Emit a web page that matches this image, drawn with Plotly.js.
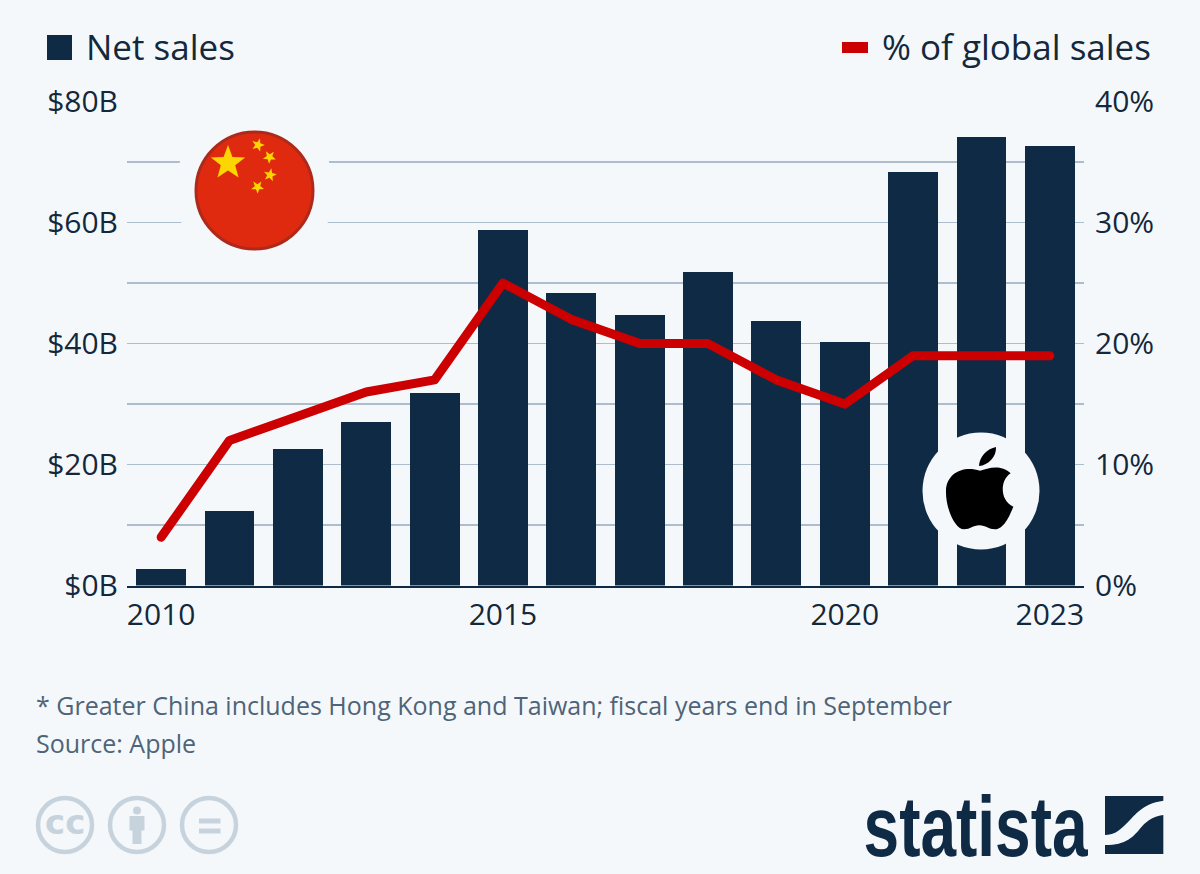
<!DOCTYPE html>
<html>
<head>
<meta charset="utf-8">
<script src="https://cdn.plot.ly/plotly-3.0.1.min.js"></script>
<style>html,body{margin:0;padding:0;background:#f5f8fb;overflow:hidden}</style>
</head>
<body>
<div id="chart" style="width:1200px;height:874px"></div>
<script>
const years = [2010,2011,2012,2013,2014,2015,2016,2017,2018,2019,2020,2021,2022,2023];
const netSales = [2.8,12.4,22.5,27,31.9,58.7,48.4,44.8,51.9,43.7,40.3,68.4,74.2,72.6];
const globalShare = [4,12,14,16,17,25,22,20,20,17,15,19,19,19];
const xTicks = [2010,2015,2020,2023];
const leftTickVals = [0,10,20,30,40,50,60,70,80];
const leftTickText = ['$0B','','$20B','','$40B','','$60B','','$80B'];
const rightTickVals = [0,10,20,30,40];
const rightTickText = ['0%','10%','20%','30%','40%'];
const seriesBar = 'Net sales';
const seriesLine = '% of global sales';
const footnote = '* Greater China includes Hong Kong and Taiwan; fiscal years end in September';
const source = 'Source: Apple';

const W = 1200, H = 874;
const BG = '#f5f8fb', NAVY = '#0f2a45', RED = '#cc0000', GREY = '#c6d3dc';
const TXT = '#14283c', FOOT = '#4e6478';
const FONT = '"Open Sans", "Noto Sans", sans-serif';
const px = (x,y) => (x/W) + ' ' + (1 - y/H);

function pathFrom(cmds, ox, oy, s){
  return cmds.map(c => {
    const out = [c[0]];
    for (let i=1;i<c.length;i+=2) out.push(px(ox + c[i]*s, oy + c[i+1]*s));
    return out.join(' ');
  }).join(' ');
}
function shapePath(d, fill, line, lw){
  return {type:'path', xref:'paper', yref:'paper', path:d, fillcolor:fill, layer:'above',
          line:{color:line||fill, width:lw||0}};
}
function circle(cx,cy,r,fill,line,lw){
  return {type:'circle', xref:'paper', yref:'paper', layer:'above',
    x0:(cx-r)/W, x1:(cx+r)/W, y0:1-(cy+r)/H, y1:1-(cy-r)/H,
    fillcolor:fill, line:{color:line||fill, width:lw||0}};
}
function rect(x0,y0,x1,y1,fill){
  return {type:'rect', xref:'paper', yref:'paper', layer:'above',
    x0:x0/W, x1:x1/W, y0:1-y1/H, y1:1-y0/H, fillcolor:fill, line:{width:0}};
}
function star(cx,cy,r,rot){
  const pts=[];
  for(let i=0;i<10;i++){
    const rr = i%2 ? r*0.42 : r;
    const a = rot + i*Math.PI/5 - Math.PI/2;
    pts.push(px(cx+rr*Math.cos(a), cy+rr*Math.sin(a)));
  }
  return 'M '+pts.join(' L ')+' Z';
}
const appleBody = [['M',240,152],['C',262,146,300,130,332,160],['C',300,180,298,240,340,260],
  ['C',330,285,312,328,285,328],['C',265,328,258,316,238,316],['C',218,316,212,328,192,328],
  ['C',165,328,136,265,138,210],['C',140,160,190,135,240,152],['Z']];
const appleLeaf = [['M',237,138],['C',238,110,262,86,288,81],['C',290,110,265,136,237,138],['Z']];
const logoA = [['M',765,48],['L',940,48],['L',940,62],['C',875,70,850,112,825,135],['C',805,155,790,165,765,165],['Z']];
const logoB = [['M',940,105],['L',940,222],['L',765,222],['L',765,195],['C',830,195,850,170,875,140],['C',895,118,915,108,940,105],['Z']];
const t3 = (o,ox,oy) => pathFrom(o, ox, oy, 1/3);

const shapes = [
  rect(47,35,72,60,NAVY),
  rect(842,42,868,53,RED),
  circle(254.5,190.5,80,BG),
  circle(254.5,190.5,58.5,'#e02a10','#ad2a1a',3),
  shapePath(star(228,163,18,0),'#fdd500'),
  shapePath(star(258,145,6.8,0.3),'#fdd500'),
  shapePath(star(269.5,157,6.8,0.7),'#fdd500'),
  shapePath(star(270,175,6.8,0.2),'#fdd500'),
  shapePath(star(257.5,187,6.8,0.6),'#fdd500'),
  circle(981,491,58.5,BG),
  shapePath(t3(appleBody,900,420),'#000000'),
  shapePath(t3(appleLeaf,900,420),'#000000'),
  circle(65,825,27,BG,GREY,4.5),
  circle(137,825,27,BG,GREY,4.5),
  circle(209,825,27,BG,GREY,4.5),
  circle(137,810.5,4,GREY),
  rect(129.5,816,144.5,830.5,GREY),
  rect(132.5,816,141.5,844,GREY),
  rect(199,818.5,220.5,823.5,GREY),
  rect(199,828.5,220.5,833.5,GREY),
  shapePath(t3(logoA,850,780),NAVY),
  shapePath(t3(logoB,850,780),NAVY)
];

const note = (x,y,text,size,color,anchor,extra) => Object.assign({
  xref:'paper', yref:'paper', x:x/W, y:1-y/H, text:text, showarrow:false,
  xanchor:anchor||'left', yanchor:'middle', borderpad:0, borderwidth:0,
  font:{family:FONT,size:size,color:color}
}, extra||{});

const annotations = [
  note(86,46.5,seriesBar,35,TXT),
  note(1151,46.5,seriesLine,35,TXT,'right'),
  note(36,705,footnote,25,FOOT),
  note(36,743,source,25,FOOT),
  note(65,822,'cc',34,GREY,'center',{font:{family:'"DejaVu Sans", sans-serif',size:34,color:GREY,weight:700}}),
  note(976,826,'statista',86,NAVY,'center',{font:{family:'"Liberation Sans Narrow","Liberation Sans",sans-serif',size:86,color:NAVY,weight:700}})
];

const traces = [
  {type:'bar', name:seriesBar, x:years, y:netSales, yaxis:'y', width:0.73,
   marker:{color:NAVY,line:{width:0}}, hoverinfo:'skip'},
  {type:'scatter', mode:'lines', name:seriesLine, x:years, y:globalShare, yaxis:'y2',
   line:{color:RED,width:9,shape:'linear'}, hoverinfo:'skip', cliponaxis:false}
];

const tickFont = {family:FONT,size:30,color:TXT};
const layout = {
  width:W, height:H, margin:{l:0,r:0,t:0,b:0},
  paper_bgcolor:BG, plot_bgcolor:BG, showlegend:false, bargap:0,
  xaxis:{domain:[127/W,1084/W], range:[2009.5,2023.5], tickmode:'array', tickvals:xTicks,
         ticktext:xTicks.map(String), tickfont:tickFont, showgrid:false, zeroline:false,
         showline:true, linecolor:NAVY, linewidth:2, ticks:'outside', ticklen:1, tickcolor:'rgba(0,0,0,0)', anchor:'y', fixedrange:true},
  yaxis:{domain:[1-585.6/H,1-101.6/H], range:[0,80], tickmode:'array', tickvals:leftTickVals,
         ticktext:leftTickText, tickfont:tickFont, showgrid:true, gridcolor:'#aebdcb', gridwidth:1.4,
         zeroline:false, showline:false, ticks:'outside', ticklen:2, tickcolor:'rgba(0,0,0,0)', fixedrange:true},
  yaxis2:{domain:[1-585.6/H,1-101.6/H], range:[0,40], overlaying:'y', side:'right', anchor:'x',
         tickmode:'array', tickvals:rightTickVals, ticktext:rightTickText, tickfont:tickFont,
         showgrid:false, zeroline:false, showline:false, ticks:'outside', ticklen:4, tickcolor:'rgba(0,0,0,0)', fixedrange:true},
  shapes:shapes, annotations:annotations
};

Plotly.newPlot('chart', traces, layout, {displayModeBar:false, staticPlot:true}).then(() => {
  document.querySelectorAll('#chart .js-line').forEach(p => { p.style.strokeLinecap='round'; p.style.strokeLinejoin='round'; });
  document.querySelectorAll('#chart .annotation-text').forEach(t => {
    if (t.textContent === 'statista') {
      t.setAttribute('textLength','224');
      t.setAttribute('lengthAdjust','spacingAndGlyphs');
    }
  });
});
</script>
</body>
</html>
